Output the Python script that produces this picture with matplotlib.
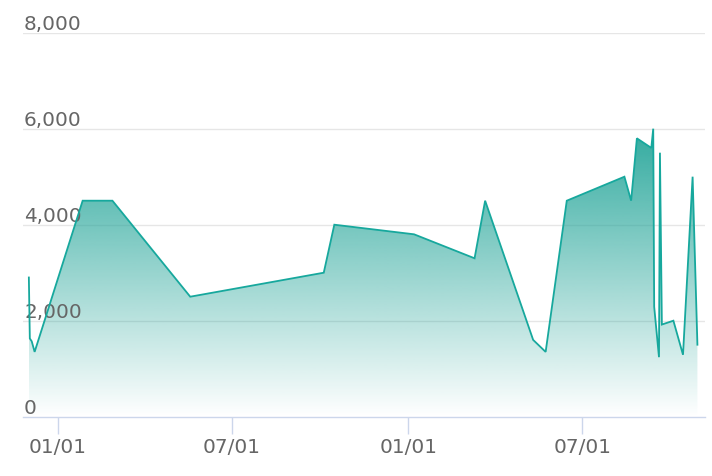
import numpy as np
import matplotlib
matplotlib.use("Agg")
import matplotlib.pyplot as plt
import matplotlib.dates as mdates
from matplotlib.transforms import blended_transform_factory, offset_copy
from datetime import datetime
import pandas as pd

dates = ["2020-12-02", "2020-12-03", "2020-12-05", "2020-12-08", "2021-01-27",
         "2021-02-27", "2021-05-19", "2021-10-05", "2021-10-16", "2022-01-07",
         "2022-03-11", "2022-03-22", "2022-05-11", "2022-05-24", "2022-06-15",
         "2022-08-14", "2022-08-21", "2022-08-27", "2022-09-11", "2022-09-13",
         "2022-09-14", "2022-09-19", "2022-09-20", "2022-09-22", "2022-10-04",
         "2022-10-14", "2022-10-24", "2022-10-29"]
values = [2900, 1630, 1570, 1350, 4500,
          4500, 2500, 3000, 4000, 3800,
          3300, 4500, 1600, 1350, 4500,
          5000, 4500, 5800, 5600, 6000,
          2290, 1240, 5500, 1920, 2000,
          1290, 5000, 1500]
y_ticks = [0, 2000, 4000, 6000, 8000]
y_labels = ["0", "2,000", "4,000", "6,000", "8,000"]
x_ticks = ["2021-01-01", "2021-07-01", "2022-01-01", "2022-07-01"]
x_labels = ["01/01", "07/01", "01/01", "07/01"]

W, H = 712, 476
fig = plt.figure(figsize=(W / 100, H / 100), dpi=100)
left, right, top, bottom = 23, 705, 32.7, 416.7
ax = fig.add_axes([left / W, 1 - bottom / H, (right - left) / W, (bottom - top) / H])

x = mdates.date2num(pd.to_datetime(dates))
y = np.array(values, dtype=float)

base = mdates.date2num(datetime(2021, 1, 1))
ax.set_xlim(base - 36.1, base + 673.9)
ax.set_ylim(0, 8000)

line_color = "#17a89d"
grid_color = "#e6e6e6"
axis_color = "#ccd6eb"
text_color = "#666666"

# gridlines
for v in y_ticks[1:]:
    ax.axhline(v, color=grid_color, lw=1.0, zorder=1)

# gradient fill
poly = ax.fill_between(x, y, 0, facecolor="none", edgecolor="none", zorder=2)
ymax = y.max()
n = 256
grad = np.zeros((n, 1, 4))
teal = np.array([38, 166, 154]) / 255.0
t = np.linspace(1, 0, n)  # top -> bottom
for i in range(n):
    grad[i, 0, :3] = teal
    grad[i, 0, 3] = t[i] * 0.95
im = ax.imshow(grad, aspect="auto", extent=[x.min(), x.max(), 0, ymax],
               origin="upper", zorder=2, interpolation="bilinear")
path = poly.get_paths()[0]
im.set_clip_path(path, transform=ax.transData)

ax.plot(x, y, color=line_color, lw=1.3, zorder=3, solid_joinstyle="miter")

# axes styling
for s in ["top", "right", "left"]:
    ax.spines[s].set_visible(False)
ax.spines["bottom"].set_color(axis_color)
ax.spines["bottom"].set_linewidth(1.0)
ax.spines["bottom"].set_zorder(4)

ax.set_yticks([])
ax.set_xticks(mdates.date2num(pd.to_datetime(x_ticks)))
ax.set_xticklabels(x_labels)
ax.tick_params(axis="x", length=12.5, width=1.0, color=axis_color, pad=2.5,
               labelsize=14.4, labelcolor=text_color)

trans = offset_copy(blended_transform_factory(ax.transAxes, ax.transData),
                    fig=fig, x=1, y=2.5, units="dots")
for v, lab in zip(y_ticks, y_labels):
    ax.text(0, v, lab, transform=trans, ha="left", va="baseline",
            fontsize=14.4, color=text_color, zorder=2.5)

fig.savefig("out.png", dpi=100)
